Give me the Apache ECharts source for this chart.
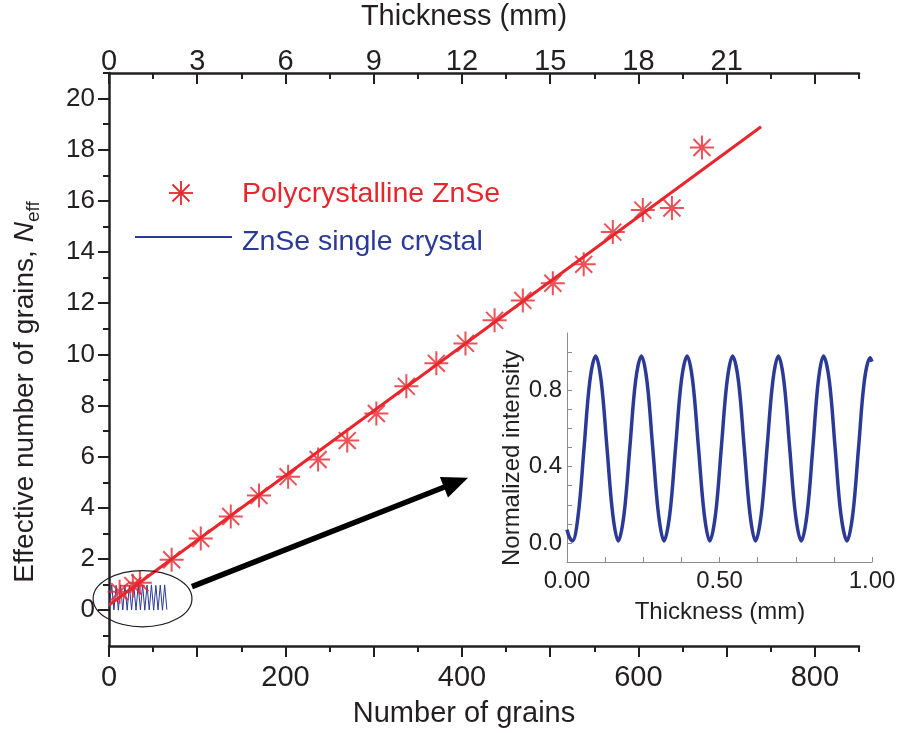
<!DOCTYPE html>
<html>
<head>
<meta charset="utf-8">
<script src="https://cdn.jsdelivr.net/npm/echarts@6/dist/echarts.min.js"></script>
<style>
  html, body { margin: 0; padding: 0; background: #fff; }
  #chart { width: 902px; height: 733px; }
</style>
</head>
<body>
<div id="chart"></div>
<script>
// Polycrystalline ZnSe: effective number of grains against number of grains
const grainCounts = [12, 27, 35, 71, 104, 138, 170, 203, 237, 270, 303, 337, 371, 404, 437, 469, 503, 538, 571, 605, 638, 672];
const nEffective  = [0.72, 0.96, 1.07, 1.97, 2.80, 3.66, 4.48, 5.22, 5.89, 6.63, 7.69, 8.75, 9.65, 10.43, 11.33, 12.11, 12.78, 13.52, 14.78, 15.64, 15.72, 18.09];

// Linear fit through the polycrystalline points (end points)
const fitGrains = [0, 739];
const fitNeff   = [0.2, 18.9];

// ZnSe single crystal trace, drawn near the origin of the main plot
const crystalGrains = [0, 0.6, 3.1, 5.6, 8.1, 10.6, 13.1, 15.6, 18.1, 20.6, 23.1, 25.6, 28.1, 30.6, 33.1, 35.6, 38.1, 40.6, 43.1, 45.6, 48.1, 50.6, 53.1, 55.6, 58.1, 60.6, 63.1, 65.6];
const crystalNeff   = [0.07, 0.01, 0.98, 0.01, 0.97, 0.0, 0.99, 0.01, 0.98, 0.0, 0.97, 0.01, 0.99, 0.0, 0.98, 0.01, 0.97, 0.0, 0.98, 0.01, 0.99, 0.0, 0.97, 0.01, 0.98, 0.0, 0.99, 0.02];

// Inset: single crystal normalized intensity against thickness (mm)
const insetThickness = [0, 0.008, 0.018, 0.037, 0.056, 0.075, 0.094, 0.112, 0.131, 0.150, 0.168, 0.187, 0.206, 0.225, 0.244, 0.262, 0.281, 0.300, 0.318, 0.337, 0.356, 0.375, 0.394, 0.412, 0.431, 0.450, 0.468, 0.487, 0.506, 0.525, 0.543, 0.562, 0.581, 0.600, 0.618, 0.637, 0.656, 0.675, 0.693, 0.711, 0.730, 0.749, 0.768, 0.787, 0.806, 0.824, 0.841, 0.860, 0.879, 0.898, 0.918, 0.937, 0.956, 0.975, 0.994, 1.0];
const insetIntensity = [0.07, 0.03, 0.01, 0.15, 0.50, 0.85, 0.98, 0.85, 0.50, 0.15, 0.01, 0.15, 0.50, 0.85, 0.98, 0.85, 0.50, 0.15, 0.01, 0.15, 0.50, 0.85, 0.98, 0.85, 0.50, 0.15, 0.01, 0.15, 0.50, 0.85, 0.98, 0.85, 0.50, 0.15, 0.01, 0.15, 0.50, 0.85, 0.98, 0.85, 0.50, 0.15, 0.01, 0.15, 0.50, 0.85, 0.98, 0.85, 0.50, 0.15, 0.01, 0.15, 0.50, 0.85, 0.97, 0.95];

// Axis ticks and labels
const grainMajorTicks = [0, 100, 200, 300, 400, 500, 600, 700, 800];
const grainMinorTicks = [50, 150, 250, 350, 450, 550, 650, 750, 850];
const grainLabels     = [0, 200, 400, 600, 800];
const mmMajorTicks    = [0, 3, 6, 9, 12, 15, 18, 21, 24];
const mmMinorTicks    = [1.5, 4.5, 7.5, 10.5, 13.5, 16.5, 19.5, 22.5, 25.5];
const mmLabels        = [0, 3, 6, 9, 12, 15, 18, 21];
const neffMajorTicks  = [0, 2, 4, 6, 8, 10, 12, 14, 16, 18, 20];
const neffMinorTicks  = [-1, 1, 3, 5, 7, 9, 11, 13, 15, 17, 19, 21];
const insetXTicks     = [0, 0.125, 0.25, 0.375, 0.5, 0.625, 0.75, 0.875, 1];
const insetXLabels    = [0, 0.5, 1];
const insetYTicks     = [0, 0.1, 0.2, 0.3, 0.4, 0.5, 0.6, 0.7, 0.8, 0.9, 1.0];
const insetYLabels    = [0, 0.4, 0.8];

// Annotation anchors in data units (grains, N_eff)
const ellipseCenter = [38, 0.45];
const ellipseRadius = [56, 1.1];
const arrowFrom = [94, 0.92];
const arrowTo   = [407, 5.18];

const RED = '#e8262d';
const BLUE = '#2b3a97';
const INK = '#231f20';
const SANS = "'Liberation Sans', Arial, Helvetica, sans-serif";

const zip = (a, b) => a.map((v, i) => [v, b[i]]);

const chart = echarts.init(document.getElementById('chart'), null, { renderer: 'canvas' });

const GRAIN_MAX = 850, MM_MAX = 25.5, NEFF_MIN = -1.4, NEFF_MAX = 21;

const hidden = { show: false };
const option = {
  backgroundColor: '#fff',
  animation: false,
  grid: [
    { left: 109, top: 73, width: 750, height: 573 },
    { left: 567, top: 333, width: 305, height: 229 }
  ],
  xAxis: [
    { // number of grains, labelled ticks
      type: 'value', gridIndex: 0, position: 'bottom', min: 0, max: GRAIN_MAX,
      axisLine: { onZero: false, lineStyle: { color: INK, width: 2.5 } },
      axisTick: { customValues: grainMajorTicks, length: 11, lineStyle: { color: INK, width: 2 } },
      axisLabel: { customValues: grainLabels, margin: 17, fontFamily: SANS, fontSize: 29, color: INK },
      splitLine: hidden
    },
    { // number of grains, short ticks
      type: 'value', gridIndex: 0, position: 'bottom', min: 0, max: GRAIN_MAX,
      axisLine: { show: false, onZero: false },
      axisTick: { customValues: grainMinorTicks, length: 6, lineStyle: { color: INK, width: 2 } },
      axisLabel: hidden, splitLine: hidden
    },
    { // thickness (mm), labelled ticks
      type: 'value', gridIndex: 0, position: 'top', min: 0, max: MM_MAX,
      axisLine: { onZero: false, lineStyle: { color: INK, width: 2.5 } },
      axisTick: { inside: true, customValues: mmMajorTicks, length: 11, lineStyle: { color: INK, width: 2 } },
      axisLabel: { customValues: mmLabels, margin: -3, fontFamily: SANS, fontSize: 29, color: INK },
      splitLine: hidden
    },
    { // thickness (mm), short ticks
      type: 'value', gridIndex: 0, position: 'top', min: 0, max: MM_MAX,
      axisLine: { show: false, onZero: false },
      axisTick: { inside: true, customValues: mmMinorTicks, length: 6, lineStyle: { color: INK, width: 2 } },
      axisLabel: hidden, splitLine: hidden
    },
    { // inset thickness
      type: 'value', gridIndex: 1, position: 'bottom', min: 0, max: 1,
      axisLine: { onZero: false, lineStyle: { color: '#8c8c8c', width: 1 } },
      axisTick: { inside: true, customValues: insetXTicks, length: 5, lineStyle: { color: '#8c8c8c', width: 1 } },
      axisLabel: { customValues: insetXLabels, margin: 7, fontFamily: SANS, fontSize: 24, color: INK,
                   formatter: v => v.toFixed(2) },
      splitLine: hidden
    }
  ],
  yAxis: [
    {
      type: 'value', gridIndex: 0, position: 'left', min: NEFF_MIN, max: NEFF_MAX,
      axisLine: { onZero: false, lineStyle: { color: INK, width: 2.5 } },
      axisTick: { customValues: neffMajorTicks, length: 11, lineStyle: { color: INK, width: 2 } },
      axisLabel: { customValues: neffMajorTicks, margin: 14, fontFamily: SANS, fontSize: 26, color: INK },
      splitLine: hidden
    },
    {
      type: 'value', gridIndex: 0, position: 'left', min: NEFF_MIN, max: NEFF_MAX,
      axisLine: { show: false, onZero: false },
      axisTick: { customValues: neffMinorTicks, length: 6, lineStyle: { color: INK, width: 2 } },
      axisLabel: hidden, splitLine: hidden
    },
    {
      type: 'value', gridIndex: 1, position: 'left', min: -0.1, max: 1.1,
      axisLine: { onZero: false, lineStyle: { color: '#8c8c8c', width: 1 } },
      axisTick: { inside: true, customValues: insetYTicks, length: 5, lineStyle: { color: '#8c8c8c', width: 1 } },
      axisLabel: { customValues: insetYLabels, margin: 5, fontFamily: SANS, fontSize: 24, color: INK,
                   formatter: v => v.toFixed(1) },
      splitLine: hidden
    }
  ],
  series: [
    {
      name: 'ZnSe single crystal', type: 'line', xAxisIndex: 0, yAxisIndex: 0,
      data: zip(crystalGrains, crystalNeff), showSymbol: false, symbol: 'none',
      lineStyle: { color: BLUE, width: 1 }, z: 2
    },
    {
      name: 'Linear fit', type: 'line', xAxisIndex: 0, yAxisIndex: 0,
      data: zip(fitGrains, fitNeff), showSymbol: false, symbol: 'none',
      lineStyle: { color: RED, width: 3 }, z: 3
    },
    {
      name: 'Polycrystalline ZnSe', type: 'scatter', xAxisIndex: 0, yAxisIndex: 0,
      data: zip(grainCounts, nEffective),
      symbol: 'path://M0,-10V10M-10,0H10M-7.07,-7.07L7.07,7.07M-7.07,7.07L7.07,-7.07',
      symbolSize: 24,
      itemStyle: { color: 'none', borderColor: RED, borderWidth: 2 }, z: 4
    },
    {
      name: 'Inset', type: 'line', xAxisIndex: 4, yAxisIndex: 2,
      data: zip(insetThickness, insetIntensity), showSymbol: false, symbol: 'none', smooth: 0.35,
      lineStyle: { color: BLUE, width: 3.5 }
    }
  ]
};

chart.setOption(option);

// Annotations placed through the main grid's coordinate system
const toPx = p => chart.convertToPixel({ xAxisIndex: 0, yAxisIndex: 0 }, p);
const c = toPx(ellipseCenter);
const cEdge = toPx([ellipseCenter[0] + ellipseRadius[0], ellipseCenter[1] + ellipseRadius[1]]);
const a0 = toPx(arrowFrom);
const a1 = toPx(arrowTo);
const ang = Math.atan2(a1[1] - a0[1], a1[0] - a0[0]);
const headLen = 26, headHalf = 11;
const base = [a1[0] - headLen * Math.cos(ang), a1[1] - headLen * Math.sin(ang)];
const nx = -Math.sin(ang), ny = Math.cos(ang);

const starLine = (x1, y1, x2, y2) => ({ type: 'line', shape: { x1, y1, x2, y2 }, style: { stroke: RED, lineWidth: 1.8 } });
const sx = 181, sy = 193, sr = 12, sd = 8.5;

chart.setOption({
  graphic: [
    { type: 'ellipse', shape: { cx: c[0], cy: c[1], rx: cEdge[0] - c[0], ry: c[1] - cEdge[1] },
      style: { fill: 'none', stroke: INK, lineWidth: 1.2 }, z: 10 },
    { type: 'line', shape: { x1: a0[0], y1: a0[1], x2: base[0] + 2 * Math.cos(ang), y2: base[1] + 2 * Math.sin(ang) },
      style: { stroke: '#000', lineWidth: 5.5 }, z: 10 },
    { type: 'polygon', shape: { points: [a1, [base[0] + nx * headHalf, base[1] + ny * headHalf], [base[0] - nx * headHalf, base[1] - ny * headHalf]] },
      style: { fill: '#000' }, z: 10 },
    // legend
    starLine(sx, sy - sr, sx, sy + sr),
    starLine(sx - sr, sy, sx + sr, sy),
    starLine(sx - sd, sy - sd, sx + sd, sy + sd),
    starLine(sx - sd, sy + sd, sx + sd, sy - sd),
    { type: 'text', x: 242, y: 194, style: { text: 'Polycrystalline ZnSe', fill: RED, fontSize: 28.5, fontFamily: SANS, verticalAlign: 'middle' } },
    { type: 'line', shape: { x1: 135, y1: 237, x2: 232, y2: 237 }, style: { stroke: BLUE, lineWidth: 2 } },
    { type: 'text', x: 242, y: 242, style: { text: 'ZnSe single crystal', fill: BLUE, fontSize: 28.5, fontFamily: SANS, verticalAlign: 'middle' } },
    // axis titles
    { type: 'text', x: 464, y: 17, style: { text: 'Thickness (mm)', fill: INK, fontSize: 29, fontFamily: SANS, align: 'center', verticalAlign: 'middle' } },
    { type: 'text', x: 464, y: 714, style: { text: 'Number of grains', fill: INK, fontSize: 29, fontFamily: SANS, align: 'center', verticalAlign: 'middle' } },
    { type: 'text', x: 25, y: 392, rotation: Math.PI / 2,
      style: {
        text: '{a|Effective number of grains, }{i|N}{s|eff}',
        align: 'center', verticalAlign: 'middle',
        rich: {
          a: { fontSize: 28, fontFamily: SANS, fill: INK, lineHeight: 36 },
          i: { fontSize: 28, fontFamily: SANS, fontStyle: 'italic', fill: INK, lineHeight: 36 },
          s: { fontSize: 19, fontFamily: SANS, fill: INK, lineHeight: 19, verticalAlign: 'bottom' }
        }
      } },
    // inset titles
    { type: 'text', x: 720, y: 612, style: { text: 'Thickness (mm)', fill: INK, fontSize: 24, fontFamily: SANS, align: 'center', verticalAlign: 'middle' } },
    { type: 'text', x: 512, y: 458, rotation: Math.PI / 2,
      style: { text: 'Normalized intensity', fill: INK, fontSize: 24, fontFamily: SANS, align: 'center', verticalAlign: 'middle' } }
  ]
});
</script>
</body>
</html>
